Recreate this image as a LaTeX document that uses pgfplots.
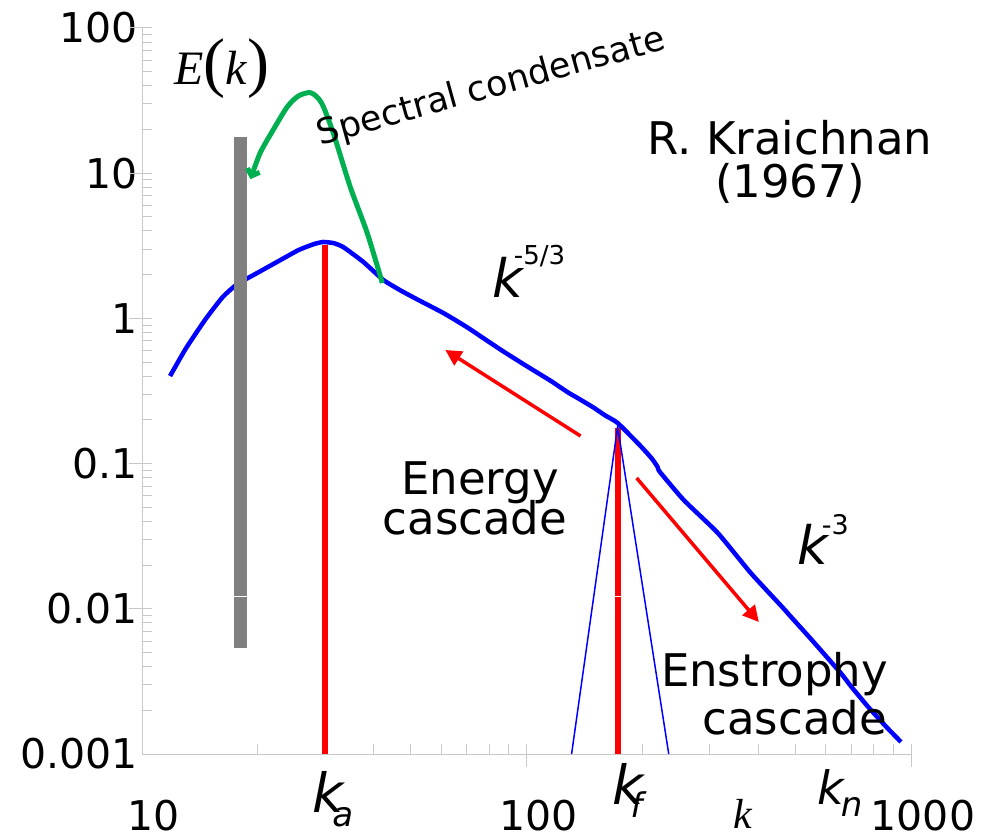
\documentclass[border=0pt]{standalone}
\usepackage{fontspec}
\setmainfont{DejaVu Sans}
\newfontfamily\timesfont{Liberation Serif}
\usepackage{pgfplots}
\pgfplotsset{compat=1.18}
\usetikzlibrary{arrows.meta}
\definecolor{myblue}{RGB}{0,0,255}
\definecolor{mygreen}{RGB}{0,176,80}
\definecolor{myred}{RGB}{255,0,0}
\definecolor{mygray}{RGB}{128,128,128}
\definecolor{axgray}{RGB}{200,200,200}
\begin{document}
\begin{tikzpicture}[x=1pt,y=1pt]
\path[use as bounding box] (0,0) rectangle (985,840);
\begin{axis}[
  at={(142pt,86pt)}, anchor=south west,
  scale only axis, width=769pt, height=726pt,
  xmode=log, ymode=log,
  xmin=10, xmax=1000, ymin=0.001, ymax=100,
  axis lines*=left,
  axis line style={axgray, line width=1pt},
  tick style={axgray, line width=1pt},
  minor tick style={axgray, line width=1pt},
  tick align=inside,
  major tick length=10pt, minor tick length=10pt,
  xtick={10,100,1000}, xticklabels={10,100,1000},
  ytick={0.001,0.01,0.1,1,10,100}, yticklabels={0.001,0.01,0.1,1,10,100},
  minor xtick={20,30,40,50,60,70,80,90,200,300,400,500,600,700,800,900},
  minor ytick={0.002,0.003,0.004,0.005,0.006,0.007,0.008,0.009,
               0.02,0.03,0.04,0.05,0.06,0.07,0.08,0.09,
               0.2,0.3,0.4,0.5,0.6,0.7,0.8,0.9,
               2,3,4,5,6,7,8,9,20,30,40,50,60,70,80,90},
  ticklabel style={font=\fontsize{41}{41}\selectfont, inner sep=0pt},
  xticklabel style={anchor=north, yshift=-46pt, xshift=12pt},
  yticklabel style={anchor=east, xshift=-4pt},
  extra x ticks={100,1000}, extra x tick labels={},
  extra y ticks={0.01,0.1,1,10,100}, extra y tick labels={},
  extra tick style={tick align=outside, major tick length=13pt},
  clip=false,
]
% red markers k_a and k_f
\addplot[myred, line width=6pt] coordinates {(29.97,0.001) (29.97,3.2)};
\addplot[myred, line width=6pt] coordinates {(172.6,0.001) (172.6,0.176)};
% forcing triangle
\addplot[myblue, line width=1.5pt] coordinates {(131.0,0.001) (172.6,0.18) (234.4,0.001)};
% energy spectrum
\addplot[myblue, line width=4.5pt, line join=round, smooth, tension=0.3] coordinates {
(11.83,0.401) (13.0,0.62) (14.6,0.98) (16.2,1.40) (17.68,1.72) (19.93,2.054)
(22.46,2.45) (25.5,2.95) (28.0,3.25) (29.61,3.36) (31.5,3.30) (33.38,3.10) (37.63,2.45) (42.42,1.84)
(47.0,1.56) (52.02,1.35) (60.79,1.089) (70.0,0.87) (85.55,0.61) (100.0,0.47)
(115.5,0.372) (128.0,0.31) (135.8,0.283) (149.5,0.243) (160.0,0.215) (172.6,0.1905) (198.1,0.132) (212.0,0.108)
(219.3,0.0947) (222.0,0.088) (256.4,0.0561) (314.4,0.0333) (383.1,0.01765)
(467.0,0.0100) (480.0,0.0092) (549.1,0.0062) (657.2,0.0036) (700.0,0.0029)
(772.7,0.00212) (860.0,0.00155) (941.8,0.00121)};
% grey bar
\addplot[mygray, line width=13pt] coordinates {(18.05,0.00537) (18.05,17.75)};
\draw[white, line width=1pt] (axis cs:17.0,0.01206) -- (axis cs:19.2,0.01206);
\draw[white, line width=1pt] (axis cs:166,0.01206) -- (axis cs:179,0.01206);
% spectral condensate
\addplot[mygreen, line width=5pt, line join=round, smooth, tension=0.45, -{Straight Barb[length=6pt,width=13pt]}] coordinates {
(42.17,1.753) (38.53,3.875) (34.81,8.035) (31.44,18.92) (29.3,30.5) (27.5,35.8)
(25.5,34.0) (23.85,28.57) (21.93,19.84) (20.29,13.78) (19.15,9.1)};
% cascade arrows
\draw[myred, line width=3.5pt, -{Triangle[length=16pt,width=16pt]}] (axis cs:138.2,0.155) -- (axis cs:61.5,0.606);
\draw[myred, line width=3.5pt, -{Triangle[length=16pt,width=16pt]}] (axis cs:193.4,0.0796) -- (axis cs:402,0.00811);
\end{axis}
% texts
\node[anchor=base west, inner sep=0pt] at (174,755) {{\timesfont\fontsize{48}{48}\selectfont\itshape E\/}{\timesfont\fontsize{66}{66}\selectfont(}{\timesfont\fontsize{48}{48}\selectfont\itshape k\/}{\timesfont\fontsize{66}{66}\selectfont)}};
\node[anchor=base, inner sep=0pt, rotate=15.5, font=\fontsize{35}{35}\selectfont] at (494,743) {Spectral condensate};
\node[anchor=base, inner sep=0pt, font=\fontsize{45}{45}\selectfont] at (790,685) {R. Kraichnan};
\node[anchor=base, inner sep=0pt, font=\fontsize{45}{45}\selectfont] at (790,642) {(1967)};
\node[anchor=base, inner sep=0pt, font=\fontsize{45}{45}\selectfont] at (480,345) {Energy};
\node[anchor=base, inner sep=0pt, font=\fontsize{45}{45}\selectfont] at (475,305) {cascade};
\node[anchor=base east, inner sep=0pt, font=\fontsize{45}{45}\selectfont] at (888,153) {Enstrophy};
\node[anchor=base east, inner sep=0pt, font=\fontsize{45}{45}\selectfont] at (887,105) {cascade};
\node[anchor=base west, inner sep=0pt] at (492,542) {{\fontsize{53}{53}\selectfont\itshape k}\kern-9pt\raisebox{33pt}{\fontsize{26}{26}\selectfont -5/3}};
\node[anchor=base west, inner sep=0pt] at (797,275) {{\fontsize{53}{53}\selectfont\itshape k}\kern-6pt\raisebox{30pt}{\fontsize{27}{27}\selectfont -3}};
\node[anchor=base west, inner sep=0pt] at (312,27) {{\fontsize{54}{54}\selectfont\itshape k}\kern-11pt\raisebox{-14pt}{\fontsize{34}{34}\selectfont\itshape a}};
\node[anchor=base west, inner sep=0pt] at (612,35) {{\fontsize{54}{54}\selectfont\itshape k}\kern-13pt\raisebox{-13pt}{\fontsize{34}{34}\selectfont\itshape f}};
\node[anchor=base west, inner sep=0pt] at (817,35) {{\fontsize{46}{46}\selectfont\itshape k}\kern-3pt\raisebox{-12pt}{\fontsize{34}{34}\selectfont\itshape n}};
\node[anchor=base west, inner sep=0pt] at (733,11) {\timesfont\fontsize{42}{42}\selectfont\itshape k};
\end{tikzpicture}
\end{document}
